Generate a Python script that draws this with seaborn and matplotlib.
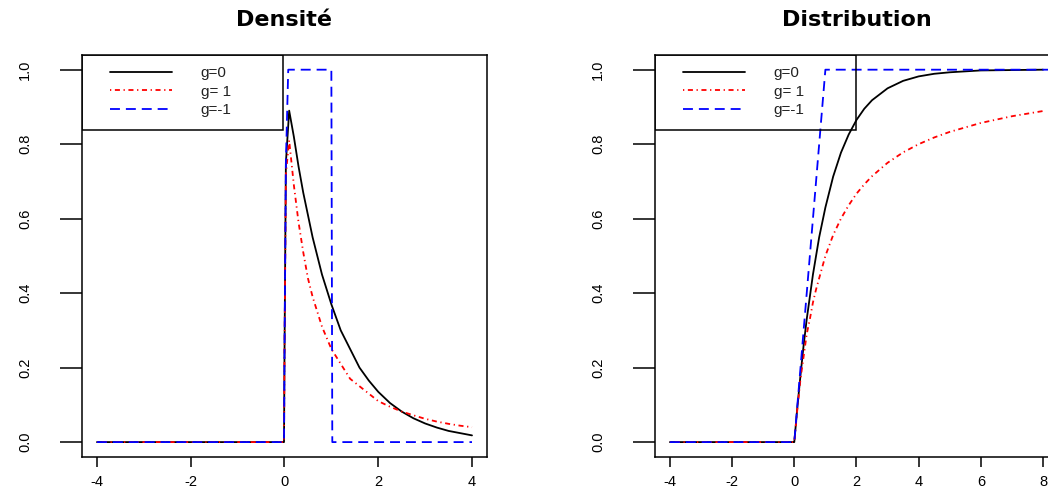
import matplotlib
matplotlib.use("Agg")
import matplotlib.pyplot as plt
from matplotlib.patches import Rectangle
import seaborn as sns

# densité
x_dens = [-4.0, -0.01, 0.0, 0.03, 0.1, 0.2, 0.3, 0.4, 0.5, 0.6, 0.7, 0.8, 0.9, 1.0,
          1.2, 1.4, 1.6, 1.8, 2.0, 2.25, 2.5, 2.75, 3.0, 3.25, 3.5, 3.75, 4.0]
dens_g0 = [0.0, 0.0, 0.23, 0.75, 0.89, 0.82, 0.74, 0.67, 0.61, 0.55, 0.50, 0.45, 0.41, 0.37,
           0.30, 0.25, 0.20, 0.165, 0.135, 0.105, 0.082, 0.064, 0.05, 0.039, 0.03, 0.024, 0.018]
dens_g1 = [0.0, 0.0, 0.23, 0.72, 0.81, 0.69, 0.59, 0.51, 0.44, 0.39, 0.35, 0.31, 0.28, 0.25,
           0.21, 0.17, 0.15, 0.13, 0.11, 0.095, 0.082, 0.072, 0.0625, 0.055, 0.049, 0.044, 0.04]
x_dens_m1 = [-4.0, -0.01, 0.0, 0.03, 0.08, 1.0, 1.02, 4.0]
dens_gm1 = [0.0, 0.0, 0.23, 0.75, 1.0, 1.0, 0.0, 0.0]

# distribution
x_dist = [-4.0, -0.01, 0.0, 0.1, 0.2, 0.3, 0.4, 0.5, 0.6, 0.7, 0.8, 0.9, 1.0, 1.25, 1.5,
          1.75, 2.0, 2.25, 2.5, 3.0, 3.5, 4.0, 4.5, 5.0, 6.0, 7.0, 8.0]
dist_g0 = [0.0, 0.0, 0.0, 0.095, 0.18, 0.26, 0.33, 0.39, 0.45, 0.50, 0.55, 0.59, 0.63, 0.713,
           0.777, 0.826, 0.865, 0.895, 0.918, 0.95, 0.97, 0.982, 0.989, 0.993, 0.998, 0.999, 1.0]
dist_g1 = [0.0, 0.0, 0.0, 0.09, 0.17, 0.23, 0.29, 0.33, 0.375, 0.41, 0.44, 0.47, 0.5, 0.556,
           0.6, 0.636, 0.667, 0.692, 0.714, 0.75, 0.778, 0.8, 0.818, 0.833, 0.857, 0.875, 0.889]
x_dist_m1 = [-4.0, -0.01, 0.0, 0.5, 1.0, 8.5]
dist_gm1 = [0.0, 0.0, 0.0, 0.5, 1.0, 1.0]

labels = ["g=0", "g= 1", "g=-1"]
colors = ["black", "red", "blue"]
styles = ["-", (0, (0.7, 2, 2.8, 2)), (0, (5.5, 3.3))]

sns.set_theme(style="ticks")
plt.rcParams["font.family"] = ["Liberation Sans", "DejaVu Sans"]
plt.rcParams["axes.unicode_minus"] = False
plt.rcParams["text.color"] = "black"

fig = plt.figure(figsize=(10.48, 4.99), dpi=100)
ax1 = fig.add_axes([0.0782, 0.0842, 0.3865, 0.806])
ax2 = fig.add_axes([0.625, 0.0842, 0.3845, 0.806])

panels = [
    (ax1, "Densité", [(x_dens, dens_g0), (x_dens, dens_g1), (x_dens_m1, dens_gm1)],
     (-4.32, 4.32), [-4, -2, 0, 2, 4], 405),
    (ax2, "Distribution", [(x_dist, dist_g0), (x_dist, dist_g1), (x_dist_m1, dist_gm1)],
     (-4.48, 8.48), [-4, -2, 0, 2, 4, 6, 8], 403),
]

for ax, title, curves, xlim, xticks, wpx in panels:
    for (xs, ys), lab, col, ls in zip(curves, labels, colors, styles):
        sns.lineplot(x=xs, y=ys, ax=ax, color=col, linestyle=ls, linewidth=1.3,
                     estimator=None, sort=False, label=lab)
    ax.set_xlim(*xlim)
    ax.set_ylim(-0.04, 1.04)
    ax.set_xticks(xticks)
    ax.set_yticks([0.0, 0.2, 0.4, 0.6, 0.8, 1.0])
    ax.set_yticklabels(["0.0", "0.2", "0.4", "0.6", "0.8", "1.0"], rotation=90, va="center")
    ax.tick_params(axis="x", length=7, width=1.1, pad=6, labelsize=10.5, colors="black")
    ax.tick_params(axis="y", length=16, width=1.1, pad=20, labelsize=10.5, colors="black")
    for sp in ax.spines.values():
        sp.set_visible(True)
        sp.set_color("black")
        sp.set_linewidth(1.1)
    ax.set_title(title, fontsize=16, fontweight="bold", family=["DejaVu Sans"],
                 color="black", pad=21)
    ax.set_xlabel("")
    ax.set_ylabel("")

    # cadre de la légende (201 x 75 px)
    ax.add_patch(Rectangle((0, 1 - 75 / 402), 201 / wpx, 75 / 402, transform=ax.transAxes,
                           fill=False, edgecolor="black", linewidth=1.1, zorder=5))
    leg = ax.legend(loc="upper left", bbox_to_anchor=(17 / wpx, 1), borderaxespad=0,
                    fontsize=11, frameon=False, handlelength=4.0, handletextpad=1.9,
                    borderpad=0.75, labelspacing=0.3)
    for t in leg.get_texts():
        t.set_color("#222222")

fig.savefig("out.png", dpi=100)
